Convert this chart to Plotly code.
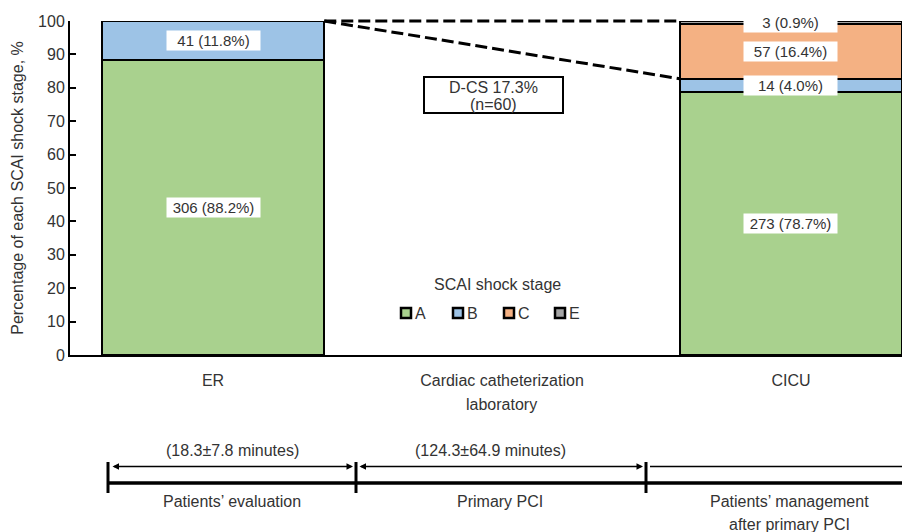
import plotly.graph_objects as go

# ---------------- data ----------------
categories = ["ER", "Cardiac catheterization laboratory", "CICU"]
tick_labels = ["ER", "Cardiac catheterization", "CICU"]
stages = ["A", "B", "C", "E"]
pct_A = [88.2, None, 78.7]
pct_B = [11.8, None, 4.0]
pct_C = [None, None, 16.4]
pct_E = [None, None, 0.9]
n_A = [306, None, 273]
n_B = [41, None, 14]
n_C = [None, None, 57]
n_E = [None, None, 3]
dcs_lines = ["D-CS 17.3%", "(n=60)"]
phase_times = ["(18.3±7.8 minutes)", "(124.3±64.9 minutes)"]
phase_names = ["Patients’ evaluation", "Primary PCI", "Patients’ management"]

colors = {"A": "#a9d18e", "B": "#9dc3e6", "C": "#f4b183", "E": "#a5a5a5"}
pcts = {"A": pct_A, "B": pct_B, "C": pct_C, "E": pct_E}
ns = {"A": n_A, "B": n_B, "C": n_C, "E": n_E}

FONT = "Liberation Sans, Arial, Helvetica, sans-serif"
TXT = "#333333"
BAR_W = 0.77
FS = 16
X_RANGE = [-0.495, 2.412]
Y_RANGE = [0, 100]

# layout geometry (figure pixels; the page body adds an 8px offset)
OFF = 8
W, H = 910 - OFF, 532 - OFF
ML, MT = 70 - OFF, 21 - OFF
MB = H - (355 - OFF)
PW, PH = W - ML, H - MT - MB


def px(sx):
    """screen x -> paper x"""
    return (sx - OFF - ML) / PW


def py(sy):
    """screen y -> paper y"""
    return (H - MB - (sy - OFF)) / PH


def dx(v):
    """x data (category index) -> paper x"""
    return (v - X_RANGE[0]) / (X_RANGE[1] - X_RANGE[0])


def dy(v):
    """y data -> paper y"""
    return (v - Y_RANGE[0]) / (Y_RANGE[1] - Y_RANGE[0])


fig = go.Figure()
for s in stages:
    fig.add_trace(go.Bar(
        name=s, x=categories, y=pcts[s], width=BAR_W,
        marker=dict(color=colors[s], line=dict(color="black", width=2)),
        hoverinfo="skip", showlegend=False,
    ))

annotations = []
shapes = []

# segment labels
for ci, cat in enumerate(categories):
    base = 0
    for s in stages:
        v = pcts[s][ci]
        if v is None:
            continue
        annotations.append(dict(
            x=cat, y=base + v / 2, xref="x", yref="y",
            xanchor="center", yanchor="middle",
            text=f"{ns[s][ci]} ({v:.1f}%)", showarrow=False,
            bgcolor="white", width=91, height=17,
            font=dict(size=15, color=TXT, family=FONT),
        ))
        base += v

# dashed lines from ER top to CICU (paper refs so they are not clipped)
er_idx, cicu_idx = 0, 2
cicu_ab = pct_A[cicu_idx] + pct_B[cicu_idx]
for y_end in [100, cicu_ab]:
    shapes.append(dict(type="line", xref="paper", yref="paper",
                       x0=dx(er_idx + BAR_W / 2), y0=dy(100),
                       x1=dx(cicu_idx - BAR_W / 2), y1=dy(y_end),
                       line=dict(color="black", width=3, dash="12px,5px")))

# D-CS box
shapes.append(dict(type="rect", xref="paper", yref="paper",
                   x0=px(424), x1=px(563), y0=py(113), y1=py(77),
                   fillcolor="white", line=dict(color="black", width=2)))
for t, yy in zip(dcs_lines, [88, 104]):
    annotations.append(dict(x=px(493.5), y=py(yy), xref="paper", yref="paper",
                            xanchor="center", yanchor="middle", text=t, showarrow=False,
                            font=dict(size=16, color=TXT, family=FONT)))

# manual legend
annotations.append(dict(x=px(497), y=py(284), xref="paper", yref="paper",
                        xanchor="center", yanchor="middle", text="SCAI shock stage",
                        showarrow=False, font=dict(size=FS, color=TXT, family=FONT)))
for s, xs in zip(stages, [401, 453, 504, 555]):
    shapes.append(dict(type="rect", xref="paper", yref="paper",
                       x0=px(xs), x1=px(xs + 10), y0=py(318), y1=py(308),
                       fillcolor=colors[s], line=dict(color="black", width=2.5)))
    annotations.append(dict(x=px(xs + 12), y=py(313), xref="paper", yref="paper",
                            xanchor="left", yanchor="middle", text=s, showarrow=False,
                            font=dict(size=FS, color=TXT, family=FONT)))

# second line of middle x label
annotations.append(dict(
    x=categories[1], y=py(404), xref="x", yref="paper", xanchor="center", yanchor="middle",
    text="laboratory", showarrow=False, font=dict(size=FS, color=TXT, family=FONT),
))

# ---------------- timeline ----------------
y_main = py(483)
shapes.append(dict(type="line", xref="paper", yref="paper", x0=px(108), x1=1.0,
                   y0=y_main, y1=y_main, line=dict(color="black", width=3.5)))
for xt in [108, 356, 646]:
    shapes.append(dict(type="line", xref="paper", yref="paper", x0=px(xt), x1=px(xt),
                       y0=py(462), y1=py(493), line=dict(color="black", width=3)))
shapes.append(dict(type="line", xref="paper", yref="paper", x0=px(650), x1=1.0,
                   y0=py(466.5), y1=py(466.5), line=dict(color="black", width=1.3)))

for (a, b) in [(111, 353), (358, 643)]:
    annotations.append(dict(
        x=px(b), y=py(466.5), xref="paper", yref="paper", ax=-(b - a), ay=0,
        axref="pixel", ayref="pixel", text="", showarrow=True,
        arrowhead=2, arrowside="end+start", arrowsize=1, arrowwidth=1.3,
        arrowcolor="black", standoff=0, startstandoff=0,
    ))

for t, xc in zip(phase_times, [232, 490]):
    annotations.append(dict(x=px(xc), y=py(450), xref="paper", yref="paper", text=t,
                            xanchor="center", yanchor="middle", showarrow=False,
                            font=dict(size=FS, color=TXT, family=FONT)))
for t, xc in zip(phase_names, [232, 500, 789]):
    annotations.append(dict(x=px(xc), y=py(501), xref="paper", yref="paper", text=t,
                            xanchor="center", yanchor="middle", showarrow=False,
                            font=dict(size=FS, color=TXT, family=FONT)))
annotations.append(dict(x=px(789), y=py(524), xref="paper", yref="paper",
                        xanchor="center", yanchor="middle",
                        text="after primary PCI", showarrow=False,
                        font=dict(size=FS, color=TXT, family=FONT)))

fig.update_layout(
    width=W, height=H,
    margin=dict(l=ML, r=0, t=MT, b=MB, autoexpand=False),
    paper_bgcolor="white", plot_bgcolor="white",
    barmode="stack",
    font=dict(family=FONT, size=FS, color=TXT),
    showlegend=False,
    xaxis=dict(
        type="category", categoryorder="array", categoryarray=categories,
        range=X_RANGE, tickvals=categories, ticktext=tick_labels,
        showline=True, linecolor="black", linewidth=2, ticks="",
        showgrid=False, zeroline=False, ticklabelstandoff=10, automargin=False,
        tickfont=dict(size=FS, color=TXT, family=FONT),
    ),
    yaxis=dict(
        range=Y_RANGE, tickvals=list(range(0, 101, 10)),
        showline=True, linecolor="black", linewidth=2,
        ticks="inside", ticklen=6, tickwidth=2, tickcolor="black",
        showgrid=False, zeroline=False, automargin=False,
        tickfont=dict(size=FS, color=TXT, family=FONT),
        title=dict(text="Percentage of each SCAI shock stage, %", standoff=10,
                   font=dict(size=FS, color=TXT, family=FONT)),
    ),
    shapes=shapes,
    annotations=annotations,
)

fig.write_html("out.html")
